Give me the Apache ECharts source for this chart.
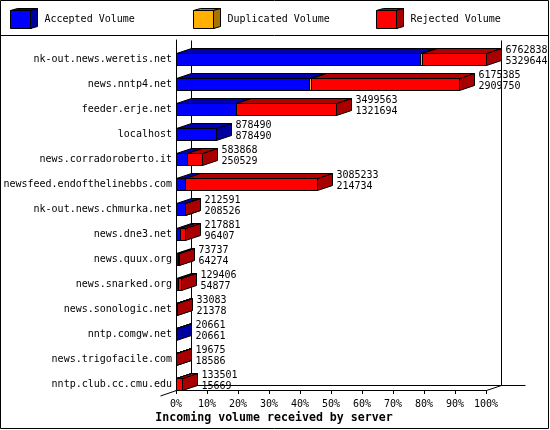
<!DOCTYPE html>
<html><head><meta charset="utf-8">
<style>html,body{margin:0;padding:0;background:#fff}#c{width:550px;height:430px}</style>
<script src="https://cdn.jsdelivr.net/npm/echarts@6/dist/echarts.min.js"></script>
</head><body><div id="c"></div>
<script>
const categories = ["nk-out.news.weretis.net","news.nntp4.net","feeder.erje.net","localhost","news.corradoroberto.it","newsfeed.endofthelinebbs.com","nk-out.news.chmurka.net","news.dne3.net","news.quux.org","news.snarked.org","news.sonologic.net","nntp.comgw.net","news.trigofacile.com","nntp.club.cc.cmu.edu"];
const totals = [6762838,6175385,3499563,878490,583868,3085233,212591,217881,73737,129406,33083,20661,19675,133501];
const accepted = [5329644,2909750,1321694,878490,250529,214734,208526,96407,64274,54877,21378,20661,18586,15669];
const duplicated = [40000,40000,0,0,0,0,0,0,0,0,0,0,0,0];
const xTicks = {min:0,max:100,interval:10};
const names = ["Accepted Volume","Duplicated Volume","Rejected Volume"];
const FONT = '"DejaVu Sans Mono"';
const DX = 15, DY = 5, HALF = 6, SHIFT = 6.5;
const maxTotal = Math.max(...totals);
const pct = v => v / maxTotal * 100;
const snap = v => Math.round(v) + 0.5;
const stroke = {stroke:'#000',lineWidth:1};

function segRender(front, top, side){
  return function(params, api){
    const s = api.value(0), e = api.value(1), i = api.value(2);
    if (e <= s) return null;
    const y = snap(api.coord([0,i])[1] + SHIFT);
    const x0 = snap(api.coord([s,i])[0] - 0.5), x1 = snap(api.coord([e,i])[0] - 0.5);
    const y0 = y - HALF, y1 = y + HALF;
    const poly = (pts, fill) => ({type:'polygon',shape:{points:pts},style:Object.assign({fill},stroke)});
    return {type:'group',children:[
      poly([[x1,y0],[x1+DX,y0-DY],[x1+DX,y1-DY],[x1,y1]], side),
      poly([[x0,y0],[x0+DX,y0-DY],[x1+DX,y0-DY],[x1,y0]], top),
      {type:'rect',shape:{x:x0,y:y0,width:x1-x0,height:y1-y0},style:Object.assign({fill:front},stroke)}
    ]};
  };
}
const rowsA = categories.map((c,i)=>[0,pct(accepted[i]),i]);
const rowsD = categories.map((c,i)=>[pct(accepted[i]),pct(accepted[i]+duplicated[i]),i]);
const rowsR = categories.map((c,i)=>[pct(accepted[i]+duplicated[i]),pct(totals[i]),i]);
const rowsL = categories.map((c,i)=>[pct(totals[i]),i,totals[i],accepted[i]]);

function labelRender(params, api){
  const i = api.value(1);
  const x = snap(api.coord([api.value(0),i])[0] - 0.5) + DX + 4;
  const y = api.coord([0,i])[1] + SHIFT;
  const t = (txt,yy)=>({type:'text',style:{text:String(txt),x,y:yy,font:'10px '+FONT,fill:'#000',textAlign:'left',textVerticalAlign:'middle'}});
  return {type:'group',children:[t(api.value(2),y-9),t(api.value(3),y+2)]};
}
function frameRender(params, api){
  const a = api.coord([0,0]), b = api.coord([100,0]);
  const xl = snap(a[0]-0.5), xr = snap(b[0]-0.5);
  const yTop = 40.5, yF = 390.5, yB = yF-DY;
  const line = (x1,y1,x2,y2)=>({type:'line',shape:{x1,y1,x2,y2},style:stroke});
  return {type:'group',children:[
    line(xl+DX,yTop,xl+DX,yB), line(xr+DX,yTop,xr+DX,yB),
    line(xl+DX,yB,xr+DX+24,yB), line(xl,yF,xl-16,yF+DY+0.5), line(xr,yF,xr+DX,yB)
  ]};
}
const legendSide = (x,fillS,fillT)=>[
  {type:'polygon',shape:{points:[[x+0.5,10.5],[x+7.5,8.5],[x+27.5,8.5],[x+20.5,10.5]]},style:Object.assign({fill:fillT},stroke),z:5},
  {type:'polygon',shape:{points:[[x+20.5,10.5],[x+27.5,8.5],[x+27.5,26.5],[x+20.5,28.5]]},style:Object.assign({fill:fillS},stroke),z:5}
];
const legendCfg = (name,left)=>({data:[name],left,top:10,padding:0,itemWidth:21,itemHeight:18,icon:'rect',
  itemStyle:{borderColor:'#000',borderWidth:1},selectedMode:false,
  textStyle:{fontFamily:FONT,fontSize:10,color:'#000',padding:[0,0,0,8]}});
const chart = echarts.init(document.getElementById('c'),null,{renderer:'canvas',width:550,height:430});
const C = {blue:['#0000ff','#0000b0','#0000a0'],amber:['#ffb000','#b07800','#a87400'],red:['#ff0000','#b00000','#a80000']};
chart.setOption({
  animation:false,backgroundColor:'#fff',
  title:{text:'Incoming volume received by server',left:274,top:412,textAlign:'center',padding:0,
    textStyle:{fontFamily:FONT,fontSize:11.6,fontWeight:'bold',color:'#000'}},
  legend:[legendCfg(names[0],10),legendCfg(names[1],193),legendCfg(names[2],376)],
  grid:{left:176,top:40,width:310,height:350,containLabel:false},
  xAxis:{type:'value',min:xTicks.min,max:xTicks.max,interval:xTicks.interval,splitLine:{show:false},
    axisLine:{show:true,lineStyle:{color:'#000',width:1}},
    axisTick:{show:true,length:4,lineStyle:{color:'#000'}},
    axisLabel:{formatter:'{value}%',fontFamily:FONT,fontSize:10,color:'#000',margin:9,hideOverlap:false}},
  yAxis:{type:'category',inverse:true,data:categories,
    axisLine:{show:true,onZero:false,lineStyle:{color:'#000',width:1}},axisTick:{show:false},splitLine:{show:false},
    axisLabel:{fontFamily:FONT,fontSize:10,color:'#000',margin:4,verticalAlign:'top',padding:[2,0,0,0],interval:0}},
  graphic:[
    {type:'rect',shape:{x:0.5,y:0.5,width:548,height:428},style:{fill:'none',stroke:'#000',lineWidth:1},z:-1,silent:true},
    {type:'line',shape:{x1:0,y1:35.5,x2:549,y2:35.5},style:stroke,silent:true},
    ...legendSide(10,C.blue[2],C.blue[1]),...legendSide(193,C.amber[2],C.amber[1]),...legendSide(376,C.red[2],C.red[1])
  ],
  series:[
    {type:'custom',name:'frame',data:[[0]],renderItem:frameRender,silent:true,z:1,encode:{x:0},clip:false},
    {type:'custom',name:names[0],data:rowsA,renderItem:segRender(...C.blue),itemStyle:{color:C.blue[0]},z:2,encode:{x:[0,1],y:2},clip:false},
    {type:'custom',name:names[1],data:rowsD,renderItem:segRender(...C.amber),itemStyle:{color:C.amber[0]},z:3,encode:{x:[0,1],y:2},clip:false},
    {type:'custom',name:names[2],data:rowsR,renderItem:segRender(...C.red),itemStyle:{color:C.red[0]},z:4,encode:{x:[0,1],y:2},clip:false},
    {type:'custom',name:'labels',data:rowsL,renderItem:labelRender,z:6,encode:{x:0,y:1},clip:false}
  ]
});
</script></body></html>
